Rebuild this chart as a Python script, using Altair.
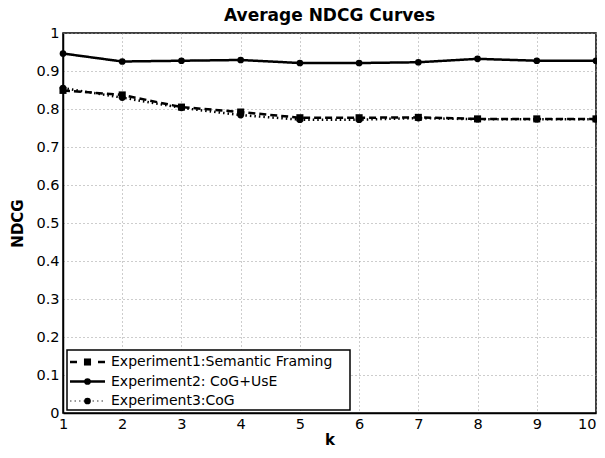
import altair as alt
import pandas as pd

# ---- data ----
k_values = [1, 2, 3, 4, 5, 6, 7, 8, 9, 10]
exp1 = [0.849, 0.837, 0.805, 0.792, 0.777, 0.777, 0.778, 0.774, 0.774, 0.774]
exp2 = [0.946, 0.925, 0.927, 0.929, 0.921, 0.921, 0.923, 0.932, 0.927, 0.927]
exp3 = [0.855, 0.830, 0.803, 0.784, 0.772, 0.772, 0.776, 0.773, 0.773, 0.773]
series_names = [
    "Experiment1:Semantic Framing",
    "Experiment2: CoG+UsE",
    "Experiment3:CoG",
]
y_ticks = [0, 0.1, 0.2, 0.3, 0.4, 0.5, 0.6, 0.7, 0.8, 0.9, 1]

rows = []
for name, vals in zip(series_names, [exp1, exp2, exp3]):
    for kk, v in zip(k_values, vals):
        rows.append({"k": kk, "ndcg": v, "series": name})
df = pd.DataFrame(rows)
legend_df = pd.DataFrame({"entry": series_names})

FONT = "DejaVu Sans"

x_enc = alt.X(
    "k:Q",
    scale=alt.Scale(domain=[1, 10], nice=False),
    axis=alt.Axis(
        values=k_values, format="d", title="k", grid=True,
        labelPadding=4, titlePadding=2,
        labelAlign=alt.condition("datum.value == 10", alt.value("right"), alt.value("center")),
    ),
)
y_enc = alt.Y(
    "ndcg:Q",
    scale=alt.Scale(domain=[0, 1], nice=False),
    axis=alt.Axis(values=y_ticks, format="~g", title="NDCG", grid=True,
                  labelPadding=4, titlePadding=10),
)

base = alt.Chart(df)

lines = base.mark_line(color="black").encode(
    x=x_enc,
    y=y_enc,
    strokeDash=alt.StrokeDash(
        "series:N",
        scale=alt.Scale(domain=series_names, range=[[7, 4], [1, 0], [1.5, 3]]),
        legend=None,
    ),
    strokeWidth=alt.StrokeWidth(
        "series:N",
        scale=alt.Scale(domain=series_names, range=[2.5, 2.5, 2]),
        legend=None,
    ),
)

squares = base.transform_filter(
    alt.datum.series == series_names[0]
).mark_square(size=50, color="black", opacity=1).encode(x=x_enc, y=y_enc)

circles = base.transform_filter(
    alt.datum.series != series_names[0]
).mark_circle(size=45, color="black", opacity=1).encode(x=x_enc, y=y_enc)

main = alt.layer(lines, squares, circles)

# ---- legend (drawn inside the plot, bottom-left) ----
ly = alt.Y(
    "entry:N",
    scale=alt.Scale(type="point", domain=series_names, range=[329, 368], padding=0),
    axis=None,
)
lbase = alt.Chart(legend_df)

box = alt.Chart(legend_df.head(1)).mark_rect(
    fill="white", stroke="black", strokeWidth=1.5
).encode(x=alt.value(4), x2=alt.value(287), y=alt.value(317), y2=alt.value(377))

leg_line1 = lbase.transform_filter(alt.datum.entry == series_names[0]).mark_rule(
    color="black", strokeWidth=2.5, strokeDash=[7, 21]
).encode(x=alt.value(7), x2=alt.value(42), y=ly)
leg_line2 = lbase.transform_filter(alt.datum.entry == series_names[1]).mark_rule(
    color="black", strokeWidth=2.5
).encode(x=alt.value(7), x2=alt.value(42), y=ly)
leg_line3 = lbase.transform_filter(alt.datum.entry == series_names[2]).mark_rule(
    color="#777777", strokeWidth=1.5, strokeDash=[1.5, 3]
).encode(x=alt.value(7), x2=alt.value(42), y=ly)

leg_sq = lbase.transform_filter(alt.datum.entry == series_names[0]).mark_square(
    size=50, color="black", opacity=1
).encode(x=alt.value(24.5), y=ly)
leg_ci = lbase.transform_filter(alt.datum.entry != series_names[0]).mark_circle(
    size=45, color="black", opacity=1
).encode(x=alt.value(24.5), y=ly)

leg_text = lbase.mark_text(
    align="left", baseline="middle", font=FONT, fontSize=14, color="black"
).encode(x=alt.value(48), y=ly, text="entry:N")

legend = alt.layer(box, leg_line1, leg_line2, leg_line3, leg_sq, leg_ci, leg_text)

chart = alt.layer(main, legend).resolve_scale(y="independent").properties(
    width=533,
    height=380,
    autosize=alt.AutoSizeParams(type="none"),
    padding={"left": 55, "top": 25, "right": 1, "bottom": 37},
    title=alt.TitleParams(
        "Average NDCG Curves",
        font=FONT,
        fontSize=17,
        fontWeight="bold",
        color="black",
        anchor="middle",
        offset=0,
    ),
).configure_view(
    stroke="black", strokeWidth=1.5
).configure_axis(
    domainColor="black",
    domainWidth=1.5,
    gridColor="#9a9a9a",
    gridDash=[1, 3],
    gridWidth=1,
    ticks=False,
    labelFont=FONT,
    labelFontSize=14.5,
    labelColor="black",
    titleFont=FONT,
    titleFontSize=15,
    titleFontWeight="bold",
    titleColor="black",
)

chart.save("out.html", embed_options={"renderer": "svg", "actions": False})
